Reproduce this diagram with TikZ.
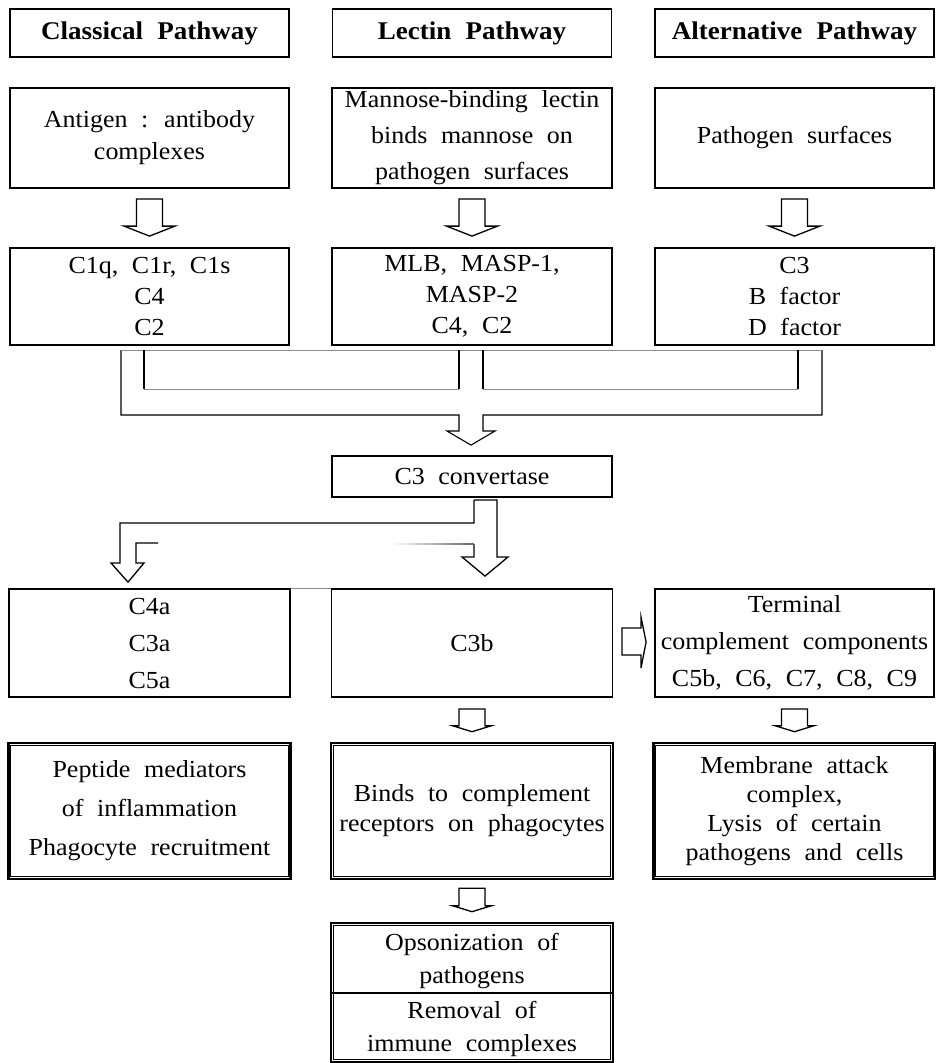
\documentclass[tikz,border=0pt]{standalone}
\usepackage{fontspec}
\setmainfont{Liberation Serif}[FakeStretch=1.06, WordSpace=2.1]
\usetikzlibrary{calc}

% hollow block arrow pointing down, from the bottom of #1 to the top of #2
% #3 gap below #1, #4 gap above #2, #5 shaft half width, #6 head half width, #7 head height
\newcommand\downblock[7]{%
  \draw[blockarrow] let \p1=(#1.south), \p2=(#2.north) in
    (\x1-#5pt,\y1-#3pt) -- (\x1-#5pt,\y2+#4pt+#7pt) -- (\x1-#6pt,\y2+#4pt+#7pt)
    -- (\x1,\y2+#4pt) -- (\x1+#6pt,\y2+#4pt+#7pt) -- (\x1+#5pt,\y2+#4pt+#7pt)
    -- (\x1+#5pt,\y1-#3pt) -- cycle;}

% inner thin frame of a double-bordered box
\newcommand\innerframe[1]{%
  \draw[line width=0.9pt] ($(#1.north west)+(3.6,3.6)$) rectangle ($(#1.south east)+(-3.6,-3.6)$);}

\begin{document}
\begin{tikzpicture}[x=1pt,y=-1pt,
  box/.style={draw, line width=1.8pt, align=center, inner sep=0pt},
  head/.style={box, minimum width=279, minimum height=48, font=\fontsize{25.5}{28}\selectfont\bfseries},
  txt/.style={font=\fontsize{24.5}{#1}\selectfont},
  dbl/.style={draw, line width=2.6pt, align=center, inner sep=0pt, minimum width=282, minimum height=136},
  blockarrow/.style={draw, line width=1.3pt, fill=white, line join=miter},
  pipe/.style={line width=1.1pt},
  faint/.style={line width=0.9pt, draw=black!45}]

\useasboundingbox (0,0) rectangle (936,1063);

% pathway headers
\node[head] (h1) at (149.5,33) {Classical Pathway};
\node[head] (h2) at (472,33) {Lectin Pathway};
\node[head] (h3) at (794.5,33) {Alternative Pathway};

% triggers
\node[box, minimum width=279, minimum height=100, txt=32] (a1) at (149.5,138)
  {Antigen : antibody\\complexes};
\node[box, minimum width=280, minimum height=100, txt=36] (a2) at (472,138)
  {Mannose-binding lectin\\binds mannose on\\pathogen surfaces};
\node[box, minimum width=279, minimum height=100, txt=32] (a3) at (794.5,138)
  {Pathogen surfaces};

% early components
\node[box, minimum width=279, minimum height=97, txt=31] (b1) at (149.5,296.5)
  {C1q, C1r, C1s\\C4\\C2};
\node[box, minimum width=280, minimum height=97, txt=31] (b2) at (472,296.5)
  {MLB, MASP-1,\\MASP-2\\C4, C2};
\node[box, minimum width=279, minimum height=97, txt=31] (b3) at (794.5,296.5)
  {C3\\B factor\\D factor};

% convertase
\node[box, minimum width=280, minimum height=41, txt=30] (cv) at (472,476.5) {C3 convertase};

% cleavage products
\node[box, minimum width=281, minimum height=108, txt=37] (c1) at (149.5,643)
  {C4a\\C3a\\C5a};
\node[box, minimum width=281, minimum height=108, txt=37] (c2) at (472,643) {C3b};
\node[box, minimum width=279, minimum height=108, txt=37] (c3) at (794.5,643)
  {Terminal\\complement components\\C5b, C6, C7, C8, C9};

% effector functions
\node[dbl, txt=39] (d1) at (149.5,811)
  {Peptide mediators\\of inflammation\\Phagocyte recruitment};
\node[dbl, txt=30] (d2) at (472,811)
  {Binds to complement\\receptors on phagocytes};
\node[dbl, txt=29] (d3) at (794.5,811)
  {Membrane attack\\complex,\\Lysis of certain\\pathogens and cells};
\innerframe{d1}\innerframe{d2}\innerframe{d3}

% final outcome
\node[dbl, minimum height=139] (fin) at (472,992.5) {};
\innerframe{fin}
\node[txt=33, align=center] (op) at (472,961.5) {Opsonization of\\pathogens};
\node[txt=33, align=center] (rm) at (472,1028.5) {Removal of\\immune complexes};
\draw[line width=1.4pt] (fin.west |- 0,993) -- (fin.east |- 0,993);

% arrows down each pathway
\downblock{a1}{b1}{10}{11}{13}{25.5}{10}
\downblock{a2}{b2}{10}{11}{13}{25.5}{10}
\downblock{a3}{b3}{10}{11}{13}{25.5}{10}
\downblock{c2}{d2}{11}{10}{13}{19.5}{6}
\downblock{c3}{d3}{11}{10}{13}{19.5}{6}
\downblock{d2}{fin}{8}{10}{13}{19.5}{6}

% manifold joining the three pathways into the convertase
\coordinate (tip1) at ($(cv.north)+(-1,-10)$);
\draw[pipe, fill=white] (121,350) -- (121,415) -- (459,415) -- (459,431) -- (447,431)
  -- (tip1) -- (495,431) -- (483,431) -- (483,415) -- (822,415) -- (822,350);
\draw[faint] (121,350) -- (822,350);
\draw[pipe] (144,350) -- (144,389) (459,350) -- (459,389)
            (483,350) -- (483,389) (798,350) -- (798,389);
\draw[faint] (144,389) -- (459,389) (483,389) -- (798,389);

% convertase splits into C3b and the small fragments
\coordinate (tip2) at ($(c2.north)+(13,-12)$);
\coordinate (tip3) at ($(c1.north)+(-21.5,-6)$);
\draw[blockarrow] (474,500) -- (497,500) -- (497,557) -- (508,557) -- (tip2)
  -- (462,557) -- (474,557) -- (474,544);
\draw[blockarrow, fill=none] (474,500) -- (474,523) -- (120,523) -- (120,563) -- (111,563)
  -- (tip3) -- (144,563) -- (136,563) -- (136,543) -- (158,543);
\shade[left color=white, right color=black!60] (392,543.4) rectangle (474,544.6);

% C3b feeds the terminal components
\coordinate (tip4) at ($(c3.west)+(-8,-1)$);
\draw[blockarrow] (622,628) -- (641,628) -- (641,617) -- (tip4) -- (641,668) -- (641,655)
  -- (622,655) -- cycle;

% thin joint between the fragment box and the C3b box
\draw[faint] (c1.north east) -- (c2.north west);

\end{tikzpicture}
\end{document}
